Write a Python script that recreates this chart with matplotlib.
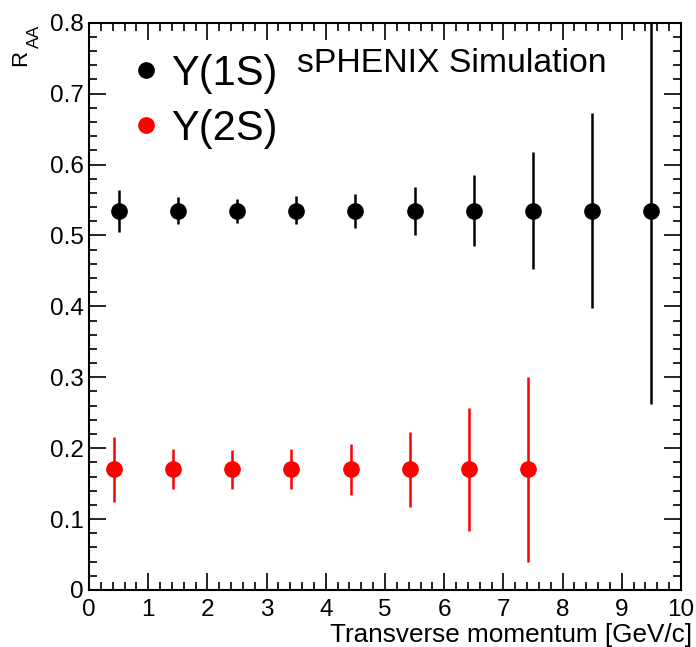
import matplotlib
matplotlib.use("Agg")
import matplotlib.pyplot as plt
from matplotlib.lines import Line2D
from matplotlib.ticker import MultipleLocator

plt.rcParams['font.family'] = ['Liberation Sans', 'DejaVu Sans']

# -------------------------------
# Data
# -------------------------------
pt_1s = [0.5, 1.5, 2.5, 3.5, 4.5, 5.5, 6.5, 7.5, 8.5, 9.5]
raa_1s = [0.535] * 10
err_lo_1s = [0.030, 0.019, 0.018, 0.019, 0.024, 0.034, 0.050, 0.083, 0.137, 0.272]
err_hi_1s = [0.029, 0.019, 0.017, 0.020, 0.024, 0.034, 0.050, 0.083, 0.137, 0.272]

pt_2s = [0.42, 1.42, 2.42, 3.42, 4.42, 5.42, 6.42, 7.42]
raa_2s = [0.17] * 8
err_lo_2s = [0.046, 0.028, 0.027, 0.028, 0.036, 0.053, 0.087, 0.131]
err_hi_2s = [0.046, 0.029, 0.028, 0.029, 0.036, 0.053, 0.086, 0.130]

labels = ["Υ(1S)", "Υ(2S)"]
colors = ["black", "#ff0000"]

# -------------------------------
# Plot
# -------------------------------
W, H = 696, 647
fig = plt.figure(figsize=(W / 100, H / 100), dpi=100)
ax = fig.add_axes([89 / W, 1 - 590 / H, 592 / W, 567.3 / H])

ax.errorbar(pt_1s, raa_1s, yerr=[err_lo_1s, err_hi_1s], fmt='o', color=colors[0],
            ms=11, elinewidth=1.8, capsize=0)
ax.errorbar(pt_2s, raa_2s, yerr=[err_lo_2s, err_hi_2s], fmt='o', color=colors[1],
            ms=11, elinewidth=1.8, capsize=0)

ax.set_xlim(0, 10)
ax.set_ylim(0, 0.8)
ax.xaxis.set_major_locator(MultipleLocator(1))
ax.xaxis.set_minor_locator(MultipleLocator(0.2))
ax.yaxis.set_minor_locator(MultipleLocator(0.02))
ax.set_yticks([0, 0.1, 0.2, 0.3, 0.4, 0.5, 0.6, 0.7, 0.8])
ax.set_yticklabels(["0", "0.1", "0.2", "0.3", "0.4", "0.5", "0.6", "0.7", "0.8"])

ax.tick_params(which='both', direction='in', top=True, right=True, width=1.2, labelsize=17.5)
ax.tick_params(which='major', length=12)
ax.tick_params(which='minor', length=6)
ax.tick_params(axis='x', pad=6.5)
ax.tick_params(axis='y', pad=4)
for s in ax.spines.values():
    s.set_linewidth(1.5)

ax.set_xlabel("Transverse momentum [GeV/c]", fontsize=18.8, labelpad=0)
ax.xaxis.set_label_coords(1.018, -0.092)
ax.xaxis.label.set_horizontalalignment('right')
ax.xaxis.label.set_verticalalignment('baseline')

# R_AA title, drawn as two pieces like the ROOT label
fig.text(26 / W, 1 - 66 / H, "R", fontsize=16, rotation=90, rotation_mode='anchor',
         ha='left', va='baseline')
fig.text(39 / W, 1 - 48 / H, "AA", fontsize=12.5, rotation=90, rotation_mode='anchor',
         ha='left', va='baseline')

ax.text(0.351, 0.913, "sPHENIX Simulation", transform=ax.transAxes, fontsize=24.3,
        va='baseline')

handles = [Line2D([], [], ls='none', marker='o', ms=11, color=c) for c in colors]
ax.legend(handles, labels, loc='upper left', bbox_to_anchor=(-0.009, 1.011), frameon=False,
          fontsize=30, handletextpad=0.0, labelspacing=0.36, handlelength=1.2)

plt.savefig("out.png", dpi=100)
